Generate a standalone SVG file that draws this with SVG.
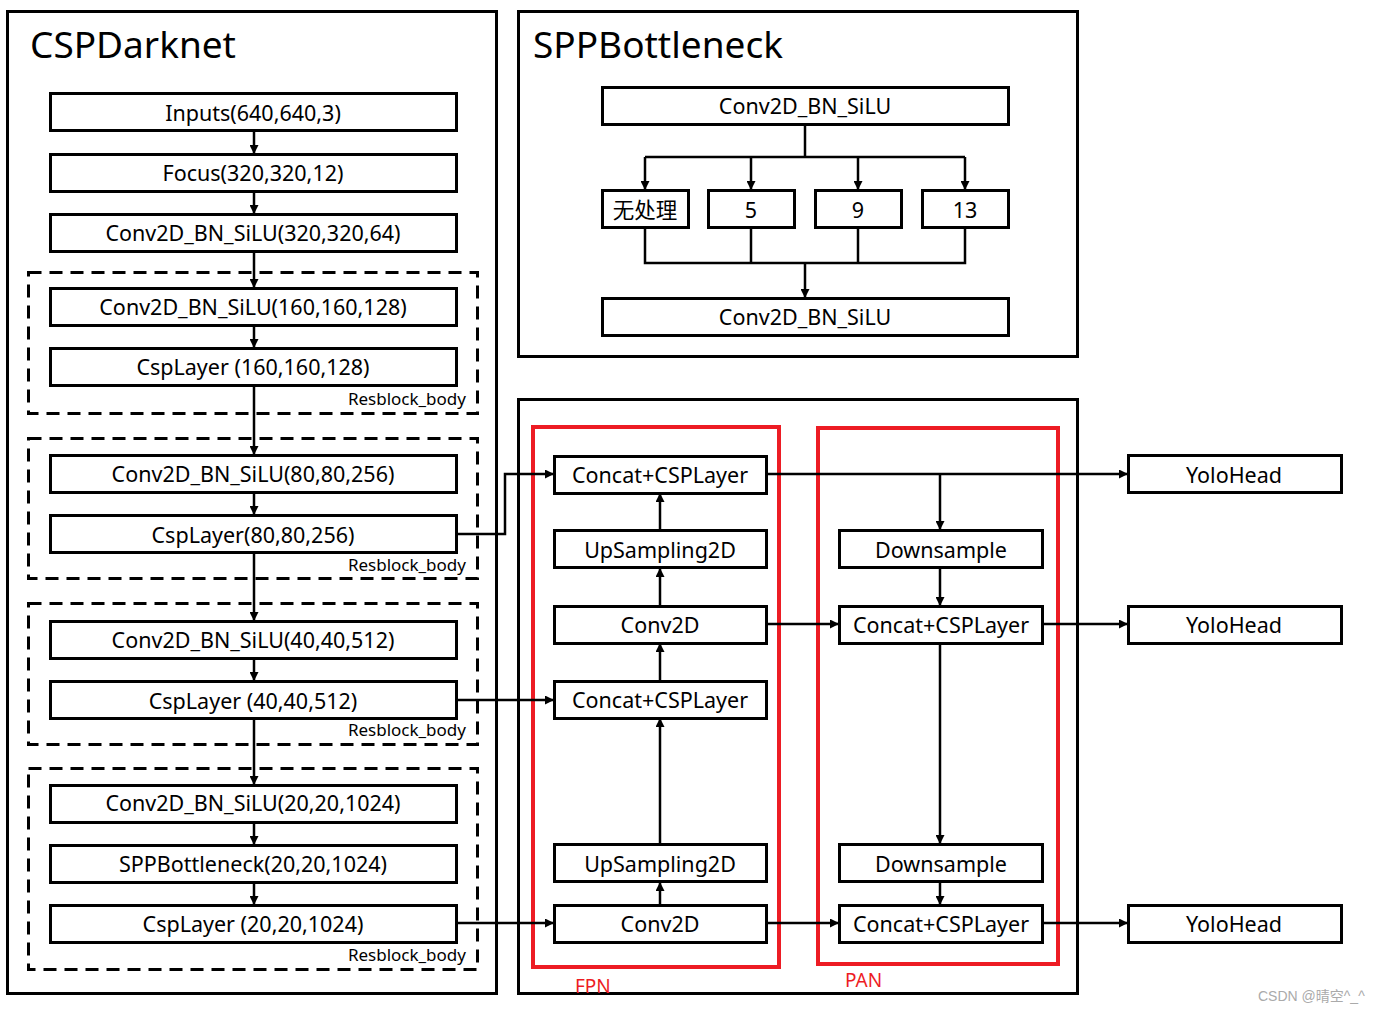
<svg xmlns="http://www.w3.org/2000/svg" width="1383" height="1012" viewBox="0 0 1383 1012">
<style>
.frame{fill:none;stroke:#000;stroke-width:3}
.box{fill:#fff;stroke:#000;stroke-width:3}
.dash{fill:none;stroke:#000;stroke-width:3;stroke-dasharray:13 8}
.red{fill:none;stroke:#ED1C24;stroke-width:4}
.t{font-family:"Noto Sans","Noto Sans CJK SC",sans-serif;font-size:21.5px;fill:#000;text-anchor:middle;dominant-baseline:central}
.title{font-family:"Noto Sans","Noto Sans CJK SC",sans-serif;font-size:37px;fill:#000}
.rb{font-family:"Noto Sans",sans-serif;font-size:17px;fill:#000;text-anchor:end}
.lab{font-family:"Noto Sans",sans-serif;font-size:19px;fill:#ED1C24}
.c{fill:none;stroke:#000;stroke-width:2.5}
.ca{fill:none;stroke:#000;stroke-width:2.5;marker-end:url(#ah)}
</style>
<defs>
<marker id="ah" markerUnits="userSpaceOnUse" viewBox="0 0 10 10" refX="10" refY="5" markerWidth="10" markerHeight="9" orient="auto">
<path d="M0,0 L10,5 L0,10 z" fill="#000"/>
</marker>
</defs>
<rect width="1383" height="1012" fill="#fff"/>

<g id="frames">
<rect class="frame" x="7.5" y="11.5" width="489" height="982"/>
<text class="title" x="30" y="58">CSPDarknet</text>
<rect class="frame" x="518.5" y="11.5" width="559" height="345"/>
<text class="title" x="533" y="58">SPPBottleneck</text>
<rect class="frame" x="518.5" y="399.5" width="559" height="594"/>
<rect class="dash" x="28.5" y="272.5" width="449" height="141"/>
<rect class="dash" x="28.5" y="438.5" width="449" height="140"/>
<rect class="dash" x="28.5" y="603.5" width="449" height="141"/>
<rect class="dash" x="28.5" y="768.5" width="449" height="201"/>
<text class="rb" x="466" y="405">Resblock_body</text>
<text class="rb" x="466" y="571">Resblock_body</text>
<text class="rb" x="466" y="736">Resblock_body</text>
<text class="rb" x="466" y="961">Resblock_body</text>
<rect class="red" x="533" y="427" width="246" height="540"/>
<rect class="red" x="818" y="428" width="240" height="536"/>
<text class="lab" x="575" y="993">FPN</text>
<text class="lab" x="845" y="987">PAN</text>
</g>

<g id="connectors">
<line class="ca" x1="254" y1="131" x2="254" y2="154"/>
<line class="ca" x1="254" y1="191" x2="254" y2="214"/>
<line class="ca" x1="254" y1="252" x2="254" y2="288"/>
<line class="ca" x1="254" y1="326" x2="254" y2="348"/>
<line class="ca" x1="254" y1="386" x2="254" y2="455"/>
<line class="ca" x1="254" y1="493" x2="254" y2="515"/>
<line class="ca" x1="254" y1="553" x2="254" y2="621"/>
<line class="ca" x1="254" y1="659" x2="254" y2="681"/>
<line class="ca" x1="254" y1="719" x2="254" y2="785"/>
<line class="ca" x1="254" y1="822" x2="254" y2="845"/>
<line class="ca" x1="254" y1="882" x2="254" y2="905"/>
<!-- SPP -->
<line class="c" x1="805" y1="124" x2="805" y2="157" stroke-width="3"/>
<line class="c" x1="645" y1="157" x2="965" y2="157"/>
<line class="ca" x1="645" y1="157" x2="645" y2="190"/>
<line class="ca" x1="751" y1="157" x2="751" y2="190"/>
<line class="ca" x1="858" y1="157" x2="858" y2="190"/>
<line class="ca" x1="965" y1="157" x2="965" y2="190"/>
<polyline class="c" points="645,228 645,263 965,263 965,228"/>
<line class="c" x1="751" y1="228" x2="751" y2="263"/>
<line class="c" x1="858" y1="228" x2="858" y2="263"/>
<line class="ca" x1="805" y1="263" x2="805" y2="298" stroke-width="3"/>
<!-- backbone to neck -->
<polyline class="ca" points="456,534 505,534 505,474 554,474"/>
<line class="ca" x1="456" y1="700" x2="554" y2="700"/>
<line class="ca" x1="456" y1="923" x2="554" y2="923"/>
<!-- FPN up path -->
<line class="ca" x1="660" y1="905" x2="660" y2="882"/>
<line class="ca" x1="660" y1="844" x2="660" y2="718"/>
<line class="ca" x1="660" y1="681" x2="660" y2="643"/>
<line class="ca" x1="660" y1="606" x2="660" y2="568"/>
<line class="ca" x1="660" y1="530" x2="660" y2="493"/>
<!-- to heads / PAN -->
<line class="ca" x1="766" y1="474" x2="1128" y2="474"/>
<line class="ca" x1="940" y1="474" x2="940" y2="530"/>
<line class="ca" x1="940" y1="568" x2="940" y2="606"/>
<line class="ca" x1="766" y1="624" x2="839" y2="624"/>
<line class="ca" x1="1042" y1="624" x2="1128" y2="624"/>
<line class="ca" x1="940" y1="643" x2="940" y2="844"/>
<line class="ca" x1="940" y1="882" x2="940" y2="905"/>
<line class="ca" x1="766" y1="923" x2="839" y2="923"/>
<line class="ca" x1="1042" y1="923" x2="1128" y2="923"/>
</g>

<g id="n-inputs"><rect class="box" x="50.5" y="93.5" width="406" height="37"/><text class="t" x="253" y="112">Inputs(640,640,3)</text></g>
<g id="n-focus"><rect class="box" x="50.5" y="154.5" width="406" height="37"/><text class="t" x="253" y="172">Focus(320,320,12)</text></g>
<g id="n-conv320"><rect class="box" x="50.5" y="214.5" width="406" height="37"/><text class="t" x="253" y="232">Conv2D_BN_SiLU(320,320,64)</text></g>
<g id="n-conv160"><rect class="box" x="50.5" y="288.5" width="406" height="37"/><text class="t" x="253" y="306">Conv2D_BN_SiLU(160,160,128)</text></g>
<g id="n-csp160"><rect class="box" x="50.5" y="348.5" width="406" height="37"/><text class="t" x="253" y="366">CspLayer (160,160,128)</text></g>
<g id="n-conv80"><rect class="box" x="50.5" y="455.5" width="406" height="37"/><text class="t" x="253" y="473">Conv2D_BN_SiLU(80,80,256)</text></g>
<g id="n-csp80"><rect class="box" x="50.5" y="515.5" width="406" height="37"/><text class="t" x="253" y="534">CspLayer(80,80,256)</text></g>
<g id="n-conv40"><rect class="box" x="50.5" y="621.5" width="406" height="37"/><text class="t" x="253" y="639">Conv2D_BN_SiLU(40,40,512)</text></g>
<g id="n-csp40"><rect class="box" x="50.5" y="681.5" width="406" height="37"/><text class="t" x="253" y="700">CspLayer (40,40,512)</text></g>
<g id="n-conv20"><rect class="box" x="50.5" y="785.5" width="406" height="37"/><text class="t" x="253" y="802">Conv2D_BN_SiLU(20,20,1024)</text></g>
<g id="n-spp20"><rect class="box" x="50.5" y="845.5" width="406" height="37"/><text class="t" x="253" y="863">SPPBottleneck(20,20,1024)</text></g>
<g id="n-csp20"><rect class="box" x="50.5" y="905.5" width="406" height="37"/><text class="t" x="253" y="923">CspLayer (20,20,1024)</text></g>

<g id="s-conv-top"><rect class="box" x="602.5" y="87.5" width="406" height="37"/><text class="t" x="805" y="105">Conv2D_BN_SiLU</text></g>
<g id="s-none"><rect class="box" x="602.5" y="190.5" width="86" height="37"/><text class="t" x="645" y="209">无处理</text></g>
<g id="s-5"><rect class="box" x="708.5" y="190.5" width="86" height="37"/><text class="t" x="751" y="209">5</text></g>
<g id="s-9"><rect class="box" x="815.5" y="190.5" width="86" height="37"/><text class="t" x="858" y="209">9</text></g>
<g id="s-13"><rect class="box" x="922.5" y="190.5" width="86" height="37"/><text class="t" x="965" y="209">13</text></g>
<g id="s-conv-bot"><rect class="box" x="602.5" y="298.5" width="406" height="37"/><text class="t" x="805" y="316">Conv2D_BN_SiLU</text></g>

<g id="f-concat1"><rect class="box" x="554.5" y="456.5" width="212" height="37"/><text class="t" x="660" y="474">Concat+CSPLayer</text></g>
<g id="f-up1"><rect class="box" x="554.5" y="530.5" width="212" height="37"/><text class="t" x="660" y="549">UpSampling2D</text></g>
<g id="f-conv1"><rect class="box" x="554.5" y="606.5" width="212" height="37"/><text class="t" x="660" y="624">Conv2D</text></g>
<g id="f-concat2"><rect class="box" x="554.5" y="681.5" width="212" height="37"/><text class="t" x="660" y="699">Concat+CSPLayer</text></g>
<g id="f-up2"><rect class="box" x="554.5" y="844.5" width="212" height="37"/><text class="t" x="660" y="863">UpSampling2D</text></g>
<g id="f-conv2"><rect class="box" x="554.5" y="905.5" width="212" height="37"/><text class="t" x="660" y="923">Conv2D</text></g>

<g id="p-down1"><rect class="box" x="839.5" y="530.5" width="203" height="37"/><text class="t" x="941" y="549">Downsample</text></g>
<g id="p-concat1"><rect class="box" x="839.5" y="606.5" width="203" height="37"/><text class="t" x="941" y="624">Concat+CSPLayer</text></g>
<g id="p-down2"><rect class="box" x="839.5" y="844.5" width="203" height="37"/><text class="t" x="941" y="863">Downsample</text></g>
<g id="p-concat2"><rect class="box" x="839.5" y="905.5" width="203" height="37"/><text class="t" x="941" y="923">Concat+CSPLayer</text></g>

<g id="h-1"><rect class="box" x="1128.5" y="455.5" width="213" height="37"/><text class="t" x="1234" y="474">YoloHead</text></g>
<g id="h-2"><rect class="box" x="1128.5" y="606.5" width="213" height="37"/><text class="t" x="1234" y="624">YoloHead</text></g>
<g id="h-3"><rect class="box" x="1128.5" y="905.5" width="213" height="37"/><text class="t" x="1234" y="923">YoloHead</text></g>

<text x="1258" y="1001" font-family="'Liberation Sans','Noto Sans CJK SC',sans-serif" font-size="14" fill="#aaa">CSDN @晴空^_^</text>
</svg>
